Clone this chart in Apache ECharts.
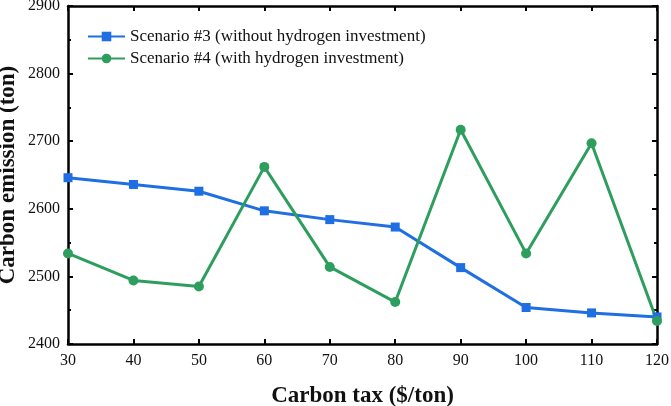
<!DOCTYPE html>
<html>
<head>
<meta charset="utf-8">
<script src="https://cdn.jsdelivr.net/npm/echarts@6/dist/echarts.min.js"></script>
<style>
  html, body { margin: 0; padding: 0; background: #fff; }
  #draw_area { width: 671px; height: 406px; }
</style>
</head>
<body>
<div id="draw_area"></div>
<script>
"use strict";

// 横轴：碳税
var carbon_tax = [30, 40, 50, 60, 70, 80, 90, 100, 110, 120];
// 两种情景的碳排放
var scenario3 = [2646, 2636, 2626, 2597, 2584, 2573, 2513, 2454, 2446, 2440];
var scenario4 = [2534, 2494, 2485, 2662, 2514, 2462, 2717, 2534, 2697, 2434];
var series_names = ["Scenario #3 (without hydrogen investment)", "Scenario #4 (with hydrogen investment)"];

var font_family = '"Liberation Serif", "Times New Roman", serif';

function toPairs(xs, ys) {
    return xs.map(function (x, i) { return [x, ys[i]]; });
}

// 边框四条轴的公共样式
function frameAxis(extra) {
    var base = {
        type: 'value',
        axisLine: { show: true, onZero: false, lineStyle: { color: '#000', width: 2.5 } },
        axisTick: { show: true, inside: true, length: 5, lineStyle: { color: '#000', width: 2 } },
        splitLine: { show: false },
        axisLabel: { show: false }
    };
    return Object.assign(base, extra);
}

var option = {
    animation: false,
    grid: { left: 68, right: 14, top: 6, bottom: 62, containLabel: false, outerBoundsMode: 'none' },
    legend: {
        left: 82,
        top: 23,
        orient: 'vertical',
        itemGap: 5,
        itemWidth: 37,
        itemHeight: 12,
        textStyle: { fontFamily: font_family, fontSize: 17, color: '#111' },
        data: series_names
    },
    xAxis: [
        frameAxis({
            min: 30, max: 120, interval: 10,
            position: 'bottom',
            name: 'Carbon tax ($/ton)',
            nameLocation: 'middle',
            nameGap: 41,
            nameTextStyle: { fontFamily: font_family, fontSize: 23, fontWeight: 'bold', color: '#111' },
            axisLabel: { show: true, fontFamily: font_family, fontSize: 16, color: '#111', margin: 9,
                formatter: function (v) { return String(v); } }
        }),
        frameAxis({ min: 30, max: 120, interval: 10, position: 'top' })
    ],
    yAxis: [
        frameAxis({
            min: 2400, max: 2900, interval: 100,
            position: 'left',
            name: 'Carbon emission (ton)',
            nameLocation: 'middle',
            nameGap: 48,
            nameMoveOverlap: false,
            nameTextStyle: { fontFamily: font_family, fontSize: 23, fontWeight: 'bold', color: '#111' },
            minorTick: { show: true, splitNumber: 2, length: 3, lineStyle: { color: '#000', width: 2 } },
            axisLabel: { show: true, fontFamily: font_family, fontSize: 16, color: '#111', margin: 8,
                formatter: function (v) { return String(v); } }
        }),
        frameAxis({
            min: 2400, max: 2900, interval: 100,
            position: 'right',
            minorTick: { show: true, splitNumber: 2, length: 3, lineStyle: { color: '#000', width: 2 } }
        })
    ],
    series: [
        {
            name: series_names[0],
            type: 'line',
            symbol: 'rect',
            symbolSize: 9,
            data: toPairs(carbon_tax, scenario3),
            itemStyle: { color: '#1f6fe3' },
            lineStyle: { width: 3, color: '#1f6fe3' }
        },
        {
            name: series_names[1],
            type: 'line',
            symbol: 'circle',
            symbolSize: 10,
            data: toPairs(carbon_tax, scenario4),
            itemStyle: { color: '#2e9e5e' },
            lineStyle: { width: 3, color: '#2e9e5e' }
        }
    ]
};

var chart_object = echarts.init(document.getElementById('draw_area'));
chart_object.setOption(option);
</script>
</body>
</html>
